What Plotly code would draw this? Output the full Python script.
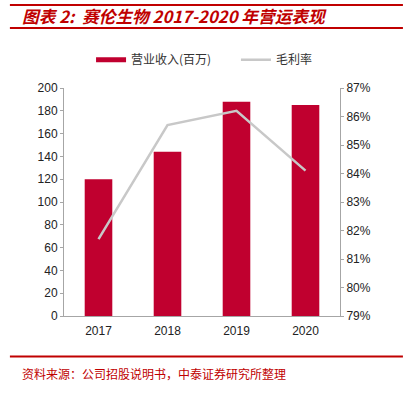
import plotly.graph_objects as go

years = ["2017", "2018", "2019", "2020"]
revenue = [120, 144, 188, 185]          # 营业收入(百万)
margin = [81.7, 85.7, 86.2, 84.1]       # 毛利率 (%)
left_ticks = [0, 20, 40, 60, 80, 100, 120, 140, 160, 180, 200]
right_ticks = [79, 80, 81, 82, 83, 84, 85, 86, 87]

BAR = "#C0002F"
RED = "#C00000"
GREY = "#C8C8C8"
AXIS = "#A6A6A6"
FONT = "Liberation Sans, Arial, sans-serif"
CJK = "Noto Sans CJK SC"

fig = go.Figure()
fig.add_trace(go.Bar(x=years, y=revenue, marker=dict(color=BAR, line=dict(width=0)),
                     width=0.4, showlegend=False, name="营业收入(百万)"))
# legend proxy for the bar series (wide red stroke)
fig.add_trace(go.Scatter(x=[None], y=[None], mode="lines", name="营业收入(百万)",
                         line=dict(color=BAR, width=5), legend="legend"))
fig.add_trace(go.Scatter(x=years, y=margin, mode="lines", name="毛利率", yaxis="y2",
                         line=dict(color=GREY, width=2.5), legend="legend2"))

leg_common = dict(orientation="h", y=1.124, yanchor="middle", xanchor="left",
                  font=dict(family=CJK, size=12, color="#333333"), itemwidth=30,
                  bgcolor="rgba(0,0,0,0)")

fig.update_layout(
    width=405, height=399,
    margin=dict(l=64, r=65, t=88, b=83),
    paper_bgcolor="white", plot_bgcolor="white",
    font=dict(family=FONT, size=12, color="#222222"),
    xaxis=dict(showline=True, linecolor=AXIS, linewidth=1, ticks="", showgrid=False,
               tickfont=dict(size=12, family=FONT, color="#222222"), ticklabelstandoff=4),
    yaxis=dict(range=[0, 200], tickvals=left_ticks, showline=True, linecolor=AXIS,
               ticks="outside", ticklen=3, tickcolor=AXIS, showgrid=False, zeroline=False,
               tickfont=dict(size=12, family=FONT, color="#222222")),
    yaxis2=dict(range=[79, 87], tickvals=right_ticks, ticktext=[f"{v}%" for v in right_ticks],
                overlaying="y", side="right", showline=True, linecolor=AXIS,
                ticks="outside", ticklen=3, tickcolor=AXIS, showgrid=False, zeroline=False,
                tickfont=dict(size=12, family=FONT, color="#222222")),
    legend=dict(x=0.098, **leg_common),
    legend2=dict(x=0.623, **leg_common),
    shapes=[
        dict(type="line", xref="paper", yref="paper", x0=-0.196, x1=1.228, y0=1.364, y1=1.364,
             line=dict(color=RED, width=2)),
        dict(type="line", xref="paper", yref="paper", x0=-0.196, x1=1.228, y0=1.263, y1=1.263,
             line=dict(color=RED, width=2)),
        dict(type="line", xref="paper", yref="paper", x0=-0.196, x1=1.228, y0=-0.178, y1=-0.178,
             line=dict(color=RED, width=2)),
    ],
    annotations=[
        dict(text="<b><i>图表\u00a02:\u00a0\u00a0赛伦生物\u00a02017-2020\u00a0年营运表现</i></b>",
             xref="paper", yref="paper",
             x=-0.16, y=1.316, xanchor="left", yanchor="middle", showarrow=False,
             font=dict(family=CJK, size=16.7, color=RED)),
        dict(text="资料来源：公司招股说明书，中泰证券研究所整理", xref="paper", yref="paper",
             x=-0.16, y=-0.25, xanchor="left", yanchor="middle", showarrow=False,
             font=dict(family=CJK, size=12, color=RED)),
    ],
)

fig.write_html("out.html", config={"displayModeBar": False},
               post_script="document.body.style.margin='0';document.body.style.padding='0';")
